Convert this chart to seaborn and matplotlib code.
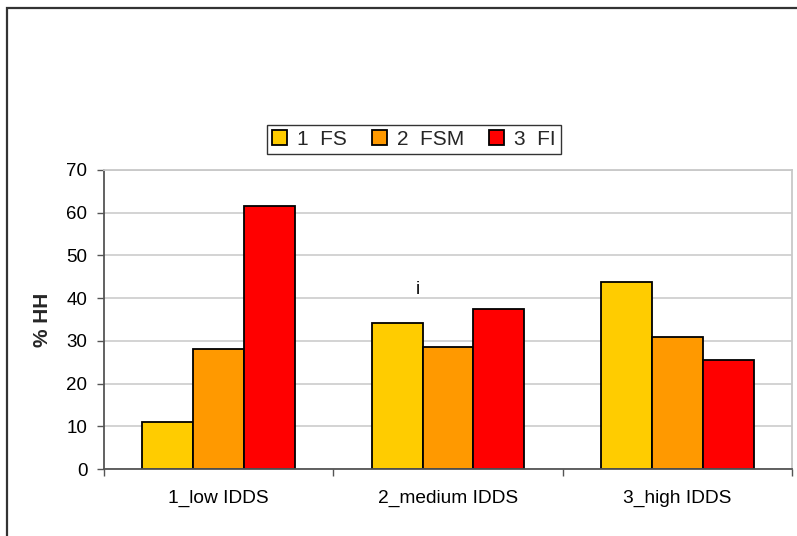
import matplotlib
matplotlib.use("Agg")
import matplotlib.pyplot as plt
import seaborn as sns
import pandas as pd
from matplotlib.patches import Rectangle

categories = ["1_low IDDS", "2_medium IDDS", "3_high IDDS"]
series = ["1  FS", "2  FSM", "3  FI"]
fs_values = [10.9, 34.1, 43.7]
fsm_values = [28.1, 28.6, 31.0]
fi_values = [61.6, 37.5, 25.5]
colors = ["#FFCC00", "#FF9900", "#FF0000"]
y_ticks = [0, 10, 20, 30, 40, 50, 60, 70]

rows = []
for name, vals in zip(series, [fs_values, fsm_values, fi_values]):
    for cat, v in zip(categories, vals):
        rows.append({"group": cat, "series": name, "value": v})
df = pd.DataFrame(rows)

sns.set_theme(style="white")
plt.rcParams["font.family"] = ["Liberation Sans", "DejaVu Sans"]

fig = plt.figure(figsize=(7.97, 5.36), dpi=100)
ax = fig.add_axes([104 / 797, 1 - 469 / 536, 688 / 797, 299 / 536])

sns.barplot(data=df, x="group", y="value", hue="series", order=categories,
            hue_order=series, palette=colors, width=0.667, gap=0,
            edgecolor="black", linewidth=1.3, saturation=1, ax=ax,
            legend=True, errorbar=None)

ax.set_xlim(-0.5, 2.5)
ax.set_ylim(0, 70)
ax.set_yticks(y_ticks)
ax.set_yticklabels([str(t) for t in y_ticks], fontsize=13.5, color="black")
ax.yaxis.grid(True, color="#d0d0d0", linewidth=1.3)
ax.set_axisbelow(True)

ax.set_xticks(range(len(categories)))
ax.set_xticklabels(categories, fontsize=13.8, color="black")
ax.set_xticks([-0.5, 0.5, 1.5, 2.5], minor=True)
ax.tick_params(axis="x", which="major", length=0, pad=15)
ax.tick_params(axis="x", which="minor", length=5, width=1, color="#555555",
               direction="out", bottom=True)
ax.tick_params(axis="y", length=5, width=1, color="#555555", direction="out",
               left=True, pad=7)

for side in ["left", "bottom"]:
    ax.spines[side].set_color("#555555")
    ax.spines[side].set_linewidth(1.3)
for side in ["top", "right"]:
    ax.spines[side].set_color("#c8c8c8")
    ax.spines[side].set_linewidth(1.3)

ax.set_xlabel("")
ax.set_ylabel("% HH", fontsize=15, fontweight="bold", labelpad=10)

ax.text(0.87, 42.1, "i", fontsize=13.5, ha="center", va="center", color="black")

handles, labels = ax.get_legend_handles_labels()
ax.get_legend().remove()
leg = fig.legend(handles, labels, loc="center", bbox_to_anchor=(414 / 797, 1 - 139.5 / 536),
                 ncol=3, fontsize=15, frameon=True, fancybox=False,
                 edgecolor="black", handlelength=0.7, handleheight=0.7,
                 handletextpad=0.5, columnspacing=1.2, borderpad=0.25,
                 borderaxespad=0)
leg.get_frame().set_linewidth(1.0)

# outer chart-area frame
fig.patches.append(Rectangle((7.5 / 797, -0.2), 1.2, 1.2 - 7.5 / 536,
                             transform=fig.transFigure, fill=False,
                             edgecolor="#333333", linewidth=1.6))

fig.savefig("out.png", dpi=100)
